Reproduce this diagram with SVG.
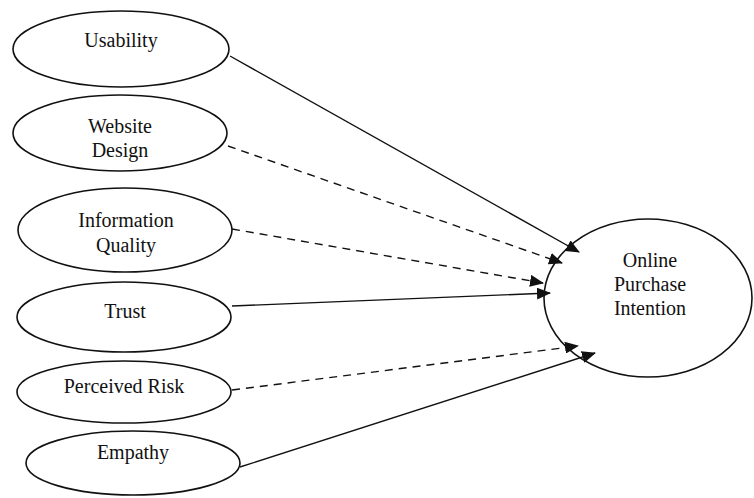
<svg xmlns="http://www.w3.org/2000/svg" width="754" height="498" viewBox="0 0 754 498">
<defs>
<style>
.n ellipse{fill:#fff;stroke:#111;stroke-width:1.6}
.n text{font-family:"Liberation Serif","Times New Roman",serif;font-size:20px;fill:#111;text-anchor:middle}
.c line{stroke:#111;stroke-width:1.4;fill:none}
.c .d{stroke-dasharray:8 6}
</style>
<marker id="ah" markerWidth="14" markerHeight="12" viewBox="0 0 14 12" refX="13" refY="6" orient="auto" markerUnits="userSpaceOnUse">
<path d="M0,0 L14,6 L0,12 Z" fill="#111"/>
</marker>
</defs>
<rect width="754" height="498" fill="#fff"/>
<g id="usability" class="n"><ellipse cx="121" cy="49" rx="108" ry="38"/><text x="121" y="47">Usability</text></g>
<g id="website-design" class="n"><ellipse cx="120" cy="133" rx="107" ry="38"/><text x="120" y="133">Website</text><text x="120" y="157">Design</text></g>
<g id="information-quality" class="n"><ellipse cx="125" cy="230" rx="107" ry="42"/><text x="126" y="227">Information</text><text x="126" y="252">Quality</text></g>
<g id="trust" class="n"><ellipse cx="124" cy="317" rx="107" ry="35"/><text x="125" y="318">Trust</text></g>
<g id="perceived-risk" class="n"><ellipse cx="124" cy="392" rx="107" ry="31"/><text x="124" y="393">Perceived Risk</text></g>
<g id="empathy" class="n"><ellipse cx="133" cy="463" rx="107" ry="32"/><text x="133" y="459">Empathy</text></g>
<g id="online-purchase-intention" class="n"><ellipse cx="648" cy="298" rx="104" ry="79"/><text x="650" y="267">Online</text><text x="650" y="291">Purchase</text><text x="650" y="315">Intention</text></g>
<g id="connectors" class="c">
<line x1="230" y1="56" x2="579" y2="252" marker-end="url(#ah)"/>
<line class="d" x1="228" y1="146" x2="562" y2="263" marker-end="url(#ah)"/>
<line class="d" x1="232" y1="229" x2="543" y2="283" marker-end="url(#ah)"/>
<line x1="232" y1="306" x2="550" y2="293" marker-end="url(#ah)"/>
<line class="d" x1="232" y1="390" x2="578" y2="346" marker-end="url(#ah)"/>
<line x1="240" y1="467" x2="595" y2="353" marker-end="url(#ah)"/>
</g>
</svg>
